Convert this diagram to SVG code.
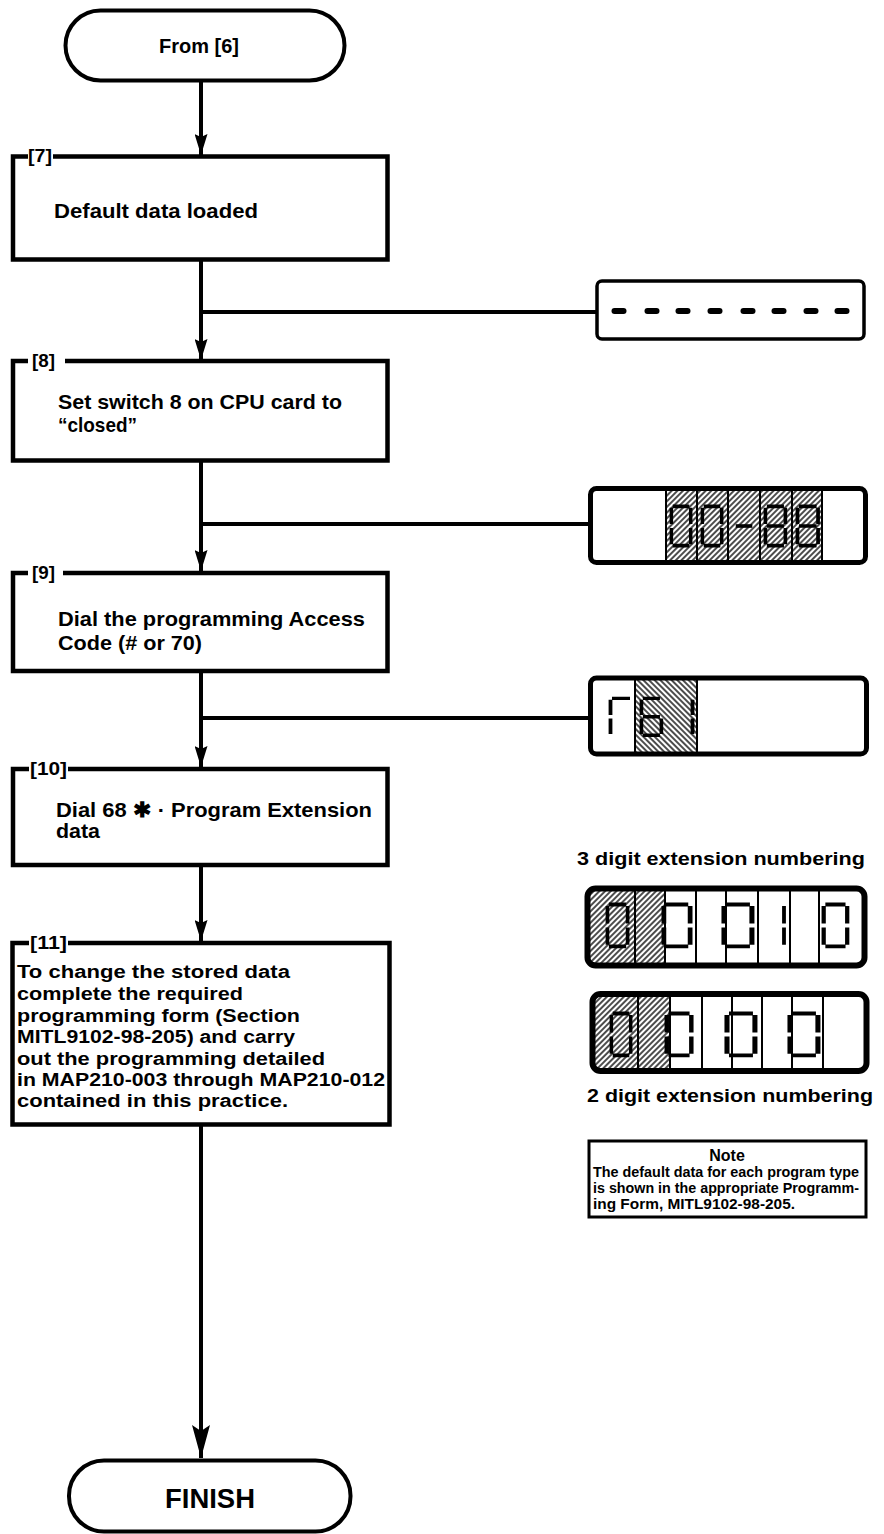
<svg xmlns="http://www.w3.org/2000/svg" width="884" height="1534" viewBox="0 0 884 1534">
<style>
.t{font-family:"Liberation Sans",Arial,Helvetica,sans-serif;font-weight:bold;fill:#000}
.box{fill:none;stroke:#000;stroke-width:4.5;stroke-linejoin:miter}
.term{fill:#fff;stroke:#000;stroke-width:4}
.con{fill:none;stroke:#000;stroke-width:4}
.disp{fill:none;stroke:#000}
.div{stroke:#000;stroke-width:2}
.seg{fill:none;stroke:#000;stroke-width:3.8}
</style>
<defs>
<marker id="ah" markerUnits="userSpaceOnUse" viewBox="0 0 21 13" markerWidth="21" markerHeight="13" refX="21" refY="6.5" orient="auto">
<path d="M0,0 L21,6.5 L0,13 L3,6.5 Z" fill="#000"/>
</marker>
<marker id="ahL" markerUnits="userSpaceOnUse" viewBox="0 0 33 18" markerWidth="33" markerHeight="18" refX="33" refY="9" orient="auto">
<path d="M0,0 L33,9 L0,18 L6,9 Z" fill="#000"/>
</marker>
<pattern id="hatchF" patternUnits="userSpaceOnUse" width="4" height="4" patternTransform="rotate(45)">
<line x1="2" y1="0" x2="2" y2="4" stroke="#000" stroke-width="1.4"/>
</pattern>
<pattern id="hatchB" patternUnits="userSpaceOnUse" width="4" height="4" patternTransform="rotate(-45)">
<line x1="2" y1="0" x2="2" y2="4" stroke="#000" stroke-width="1.4"/>
</pattern>
<g id="d0" class="seg"><path d="M3,1.5H21M22.5,3V20M22.5,24V41M3,42.5H21M1.5,24V41M1.5,3V20"/></g>
<g id="d8" class="seg"><path d="M3,1.5H21M22.5,3V20M22.5,24V41M3,42.5H21M1.5,24V41M1.5,3V20M3,22H21"/></g>
<g id="d1" class="seg"><path d="M22.5,3V20M22.5,24V41"/></g>
<g id="dm" class="seg"><path d="M3,22H21"/></g>
<g id="dG" class="seg"><path d="M3,1.5H21M1.5,3V20M1.5,24V41"/></g>
<g id="d6" class="seg"><path d="M3,1.5H21M1.5,3V20M3,22H21M1.5,24V41M22.5,24V41M3,42.5H21"/></g>
</defs>

<g id="connectors">
<line class="con" x1="201" y1="82" x2="201" y2="155" marker-end="url(#ah)"/>
<line class="con" x1="201" y1="261" x2="201" y2="360" marker-end="url(#ah)"/>
<line class="con" x1="201" y1="312" x2="597" y2="312"/>
<line class="con" x1="201" y1="460" x2="201" y2="571" marker-end="url(#ah)"/>
<line class="con" x1="201" y1="524" x2="590" y2="524"/>
<line class="con" x1="201" y1="671" x2="201" y2="767" marker-end="url(#ah)"/>
<line class="con" x1="201" y1="718" x2="590" y2="718"/>
<line class="con" x1="201" y1="865" x2="201" y2="941" marker-end="url(#ah)"/>
<line class="con" x1="201" y1="1124" x2="201" y2="1458" marker-end="url(#ahL)"/>
</g>

<g id="start">
<rect class="term" x="65.5" y="10.5" width="279" height="70" rx="35"/>
<text class="t" x="199" y="53" font-size="21" text-anchor="middle" textLength="80" lengthAdjust="spacingAndGlyphs">From [6]</text>
</g>

<g id="step7">
<path class="box" d="M28,156.5 H13 V259.5 H387.5 V156.5 H53"/>
<text class="t" x="28" y="162" font-size="19" textLength="24" lengthAdjust="spacingAndGlyphs">[7]</text>
<text class="t" x="54" y="218" font-size="21" textLength="204" lengthAdjust="spacingAndGlyphs">Default data loaded</text>
</g>

<g id="step8">
<path class="box" d="M28,361 H13 V460.5 H387.5 V361 H65"/>
<text class="t" x="32" y="367" font-size="19" textLength="23" lengthAdjust="spacingAndGlyphs">[8]</text>
<text class="t" x="58" y="409" font-size="21" textLength="284" lengthAdjust="spacingAndGlyphs">Set switch 8 on CPU card to</text>
<text class="t" x="58" y="432" font-size="21" textLength="79" lengthAdjust="spacingAndGlyphs">“closed”</text>
</g>

<g id="step9">
<path class="box" d="M28,573 H13 V671 H387.5 V573 H63"/>
<text class="t" x="32" y="579" font-size="19" textLength="23" lengthAdjust="spacingAndGlyphs">[9]</text>
<text class="t" x="58" y="626" font-size="21" textLength="307" lengthAdjust="spacingAndGlyphs">Dial the programming Access</text>
<text class="t" x="58" y="650" font-size="21" textLength="144" lengthAdjust="spacingAndGlyphs">Code (# or 70)</text>
</g>

<g id="step10">
<path class="box" d="M29,769 H13 V865 H387.5 V769 H68"/>
<text class="t" x="30" y="775" font-size="19" textLength="37" lengthAdjust="spacingAndGlyphs">[10]</text>
<text class="t" x="56" y="817" font-size="21" textLength="316" lengthAdjust="spacingAndGlyphs">Dial 68 ✱ · Program Extension</text>
<text class="t" x="56" y="838" font-size="21" textLength="44" lengthAdjust="spacingAndGlyphs">data</text>
</g>

<g id="step11">
<path class="box" d="M29,943 H12.5 V1124.5 H389.5 V943 H68"/>
<text class="t" x="30" y="949" font-size="19" textLength="37" lengthAdjust="spacingAndGlyphs">[11]</text>
<text class="t" x="17" y="978" font-size="18" textLength="273" lengthAdjust="spacingAndGlyphs">To change the stored data</text>
<text class="t" x="17" y="1000" font-size="18" textLength="226" lengthAdjust="spacingAndGlyphs">complete the required</text>
<text class="t" x="17" y="1022" font-size="18" textLength="283" lengthAdjust="spacingAndGlyphs">programming form (Section</text>
<text class="t" x="17" y="1043" font-size="18" textLength="278" lengthAdjust="spacingAndGlyphs">MITL9102-98-205) and carry</text>
<text class="t" x="17" y="1065" font-size="18" textLength="308" lengthAdjust="spacingAndGlyphs">out the programming detailed</text>
<text class="t" x="17" y="1086" font-size="18" textLength="368" lengthAdjust="spacingAndGlyphs">in MAP210-003 through MAP210-012</text>
<text class="t" x="17" y="1107" font-size="18" textLength="271" lengthAdjust="spacingAndGlyphs">contained in this practice.</text>
</g>

<g id="finish">
<rect class="term" x="69" y="1460.5" width="281.5" height="71" rx="35"/>
<text class="t" x="210" y="1508" font-size="27" text-anchor="middle" textLength="90" lengthAdjust="spacingAndGlyphs">FINISH</text>
</g>

<g id="display1">
<rect class="disp" x="597" y="281" width="267" height="58" rx="5" stroke-width="3.5"/>
<g fill="#000">
<rect x="611.5" y="308" width="15" height="6" rx="3"/>
<rect x="644.5" y="308" width="15" height="6" rx="3"/>
<rect x="675.5" y="308" width="15" height="6" rx="3"/>
<rect x="707.5" y="308" width="15" height="6" rx="3"/>
<rect x="740.5" y="308" width="15" height="6" rx="3"/>
<rect x="771.5" y="308" width="15" height="6" rx="3"/>
<rect x="803.5" y="308" width="15" height="6" rx="3"/>
<rect x="834.5" y="308" width="15" height="6" rx="3"/>
</g>
</g>

<g id="display2">
<rect x="666" y="491" width="156" height="69" fill="url(#hatchF)"/>
<g class="div">
<line x1="666" y1="490" x2="666" y2="561"/><line x1="697" y1="490" x2="697" y2="561"/>
<line x1="728" y1="490" x2="728" y2="561"/><line x1="760" y1="490" x2="760" y2="561"/>
<line x1="792" y1="490" x2="792" y2="561"/><line x1="822" y1="490" x2="822" y2="561"/>
</g>
<use href="#d0" transform="translate(670,505) scale(0.92,0.955)"/>
<use href="#d0" transform="translate(701,505) scale(0.92,0.955)"/>
<use href="#dm" transform="translate(733,505) scale(0.92,0.955)"/>
<use href="#d8" transform="translate(764,505) scale(0.95,0.955)"/>
<use href="#d8" transform="translate(796,505) scale(0.98,0.955)"/>
<rect class="disp" x="590.5" y="488.5" width="275" height="74" rx="6" stroke-width="5"/>
</g>

<g id="display3">
<rect x="635" y="680" width="62" height="72" fill="url(#hatchB)"/>
<g class="div">
<line x1="635" y1="680" x2="635" y2="752"/><line x1="697" y1="680" x2="697" y2="752"/>
</g>
<use href="#dG" transform="translate(609,697) scale(1,0.9)"/>
<use href="#d6" transform="translate(640,697) scale(0.95,0.9)"/>
<use href="#d1" transform="translate(670,697) scale(1,0.9)"/>
<rect class="disp" x="590.5" y="678" width="276" height="76" rx="6" stroke-width="5"/>
</g>

<g id="label3digit">
<text class="t" x="577" y="865" font-size="18" textLength="288" lengthAdjust="spacingAndGlyphs">3 digit extension numbering</text>
</g>

<g id="display4">
<rect x="590" y="891" width="75" height="72" fill="url(#hatchF)"/>
<g class="div">
<line x1="635" y1="891" x2="635" y2="963"/><line x1="665" y1="891" x2="665" y2="963"/>
<line x1="696" y1="891" x2="696" y2="963"/><line x1="726" y1="891" x2="726" y2="963"/>
<line x1="758" y1="891" x2="758" y2="963"/><line x1="790" y1="891" x2="790" y2="963"/>
<line x1="819" y1="891" x2="819" y2="963"/>
</g>
<use href="#d0" transform="translate(606,903) scale(0.96,1.02)"/>
<use href="#d0" transform="translate(662,903) scale(1.25,1.02)"/>
<use href="#d0" transform="translate(722,903) scale(1.33,1.02)"/>
<use href="#d1" transform="translate(761.5,903) scale(1,1.02)"/>
<use href="#d0" transform="translate(822,903) scale(1.12,1.02)"/>
<rect class="disp" x="587.5" y="888.5" width="277" height="77" rx="8" stroke-width="6"/>
</g>

<g id="display5">
<rect x="595" y="996" width="75" height="73" fill="url(#hatchF)"/>
<g class="div">
<line x1="638" y1="996" x2="638" y2="1069"/><line x1="670" y1="996" x2="670" y2="1069"/>
<line x1="702" y1="996" x2="702" y2="1069"/><line x1="732" y1="996" x2="732" y2="1069"/>
<line x1="762" y1="996" x2="762" y2="1069"/><line x1="792" y1="996" x2="792" y2="1069"/>
<line x1="823" y1="996" x2="823" y2="1069"/>
</g>
<use href="#d0" transform="translate(610,1012) scale(0.92,1.02)"/>
<use href="#d0" transform="translate(665,1012) scale(1.17,1.02)"/>
<use href="#d0" transform="translate(725,1012) scale(1.33,1.02)"/>
<use href="#d0" transform="translate(788,1012) scale(1.33,1.02)"/>
<rect class="disp" x="592.5" y="994" width="274" height="77" rx="8" stroke-width="6"/>
</g>

<g id="label2digit">
<text class="t" x="587" y="1102" font-size="18" textLength="286" lengthAdjust="spacingAndGlyphs">2 digit extension numbering</text>
</g>

<g id="note">
<rect x="589" y="1141" width="277" height="76" fill="none" stroke="#000" stroke-width="3"/>
<text class="t" x="727" y="1161" font-size="16" text-anchor="middle">Note</text>
<text class="t" x="593" y="1177" font-size="14.2" textLength="266" lengthAdjust="spacingAndGlyphs">The default data for each program type</text>
<text class="t" x="593" y="1193" font-size="14.2" textLength="266" lengthAdjust="spacingAndGlyphs">is shown in the appropriate Programm-</text>
<text class="t" x="593" y="1209" font-size="14.2" textLength="202" lengthAdjust="spacingAndGlyphs">ing Form, MITL9102-98-205.</text>
</g>
</svg>
